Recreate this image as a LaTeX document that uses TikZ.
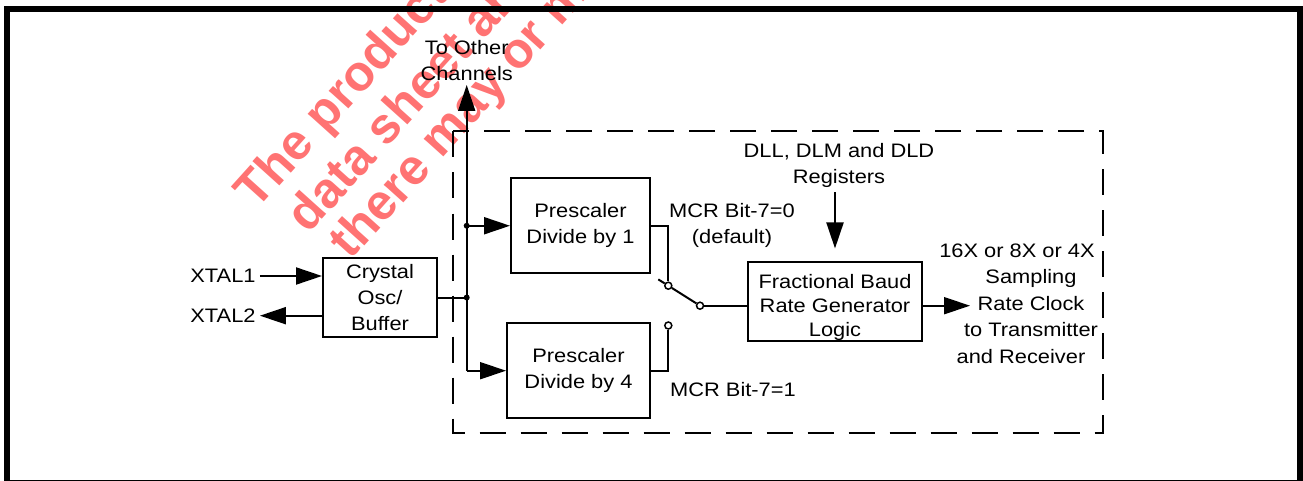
\documentclass[tikz,border=0pt]{standalone}
\usepackage{fontspec}
\setmainfont{Liberation Sans}[FakeStretch=1.12]
\newfontfamily\wmfont{Liberation Sans}
\usetikzlibrary{arrows.meta}
\definecolor{wmred}{RGB}{255,115,115}

\begin{document}
\begin{tikzpicture}[x=1pt, y=-1pt, line width=2pt,
    every node/.style={font=\fontsize{19.5}{26}\selectfont, align=center},
    block/.style={draw, line width=2pt, inner sep=0pt},
    sig/.style={-{Triangle[length=26pt,width=17pt]}},
    contact/.style={draw, circle, fill=white, line width=1.5pt, minimum size=7pt, inner sep=0pt},
    wmark/.style={text=wmred, anchor=base west, rotate=48,
                  font=\wmfont\bfseries\fontsize{50}{50}\selectfont}]
%                    ^ others
%                    |   +------+   1  o--+      regs
% XTAL1 -->+-----+   +-->| /1   |--+      \      |
%          | osc |---*   +------+          o---[frac]--> clock
% XTAL2 <--+-----+   +-->| /4   |--+   o
%                        +------+  +---+
\useasboundingbox (0,0) rectangle (1303,481);

% watermark
\node[wmark] (wm1) at (254,214) {The product};
\node[wmark] (wm2) at (306,238) {data sheet are};
\node[wmark] (wm3) at (348,264) {there may or m};

% frame and channel box
\draw[line width=6pt] (7,9) rectangle (1300,483);
\draw[dash pattern=on 26pt off 15pt] (452.7,131.5) rectangle (1102.7,432.7);

% blocks
\node[block, minimum width=114pt, minimum height=79pt] (osc) at (380,297.5) {Crystal\\Osc/\\Buffer};
\node[block, minimum width=139pt, minimum height=95pt] (pre1) at (580.5,225.75) {Prescaler\\Divide by 1};
\node[block, minimum width=143pt, minimum height=95pt] (pre4) at (578.5,370.7) {Prescaler\\Divide by 4};
\node[block, minimum width=174pt, minimum height=73pt, font=\fontsize{19.5}{24}\selectfont]
    (frac) at (835,301.5) {\rule{0pt}{26pt}Fractional Baud\\Rate Generator\\Logic};

% labels
\node (xtal1) at (223,276) {XTAL1};
\node (xtal2) at (223,315.7) {XTAL2};
\node[anchor=south] (others) at (466.7,85) {To Other\\Channels};
\node (regs) at (839,165.7) {DLL, DLM and DLD\\Registers};
\node (mcr0) at (732,225) {MCR Bit-7=0\\(default)};
\node (mcr1) at (733,390) {MCR Bit-7=1};
\node[font=\fontsize{19.5}{26.5}\selectfont] (clktxt) at (1031,303.7)
    {16X or 8X or 4X\hspace*{28pt}\\Sampling\\Rate Clock\\to Transmitter\hspace*{12pt}\\and Receiver\hspace*{20pt}};

% clock bus
\coordinate (tap1) at (466.7,225.75);
\coordinate (tap0) at (466.7,297.5);
\coordinate (tap4) at (466.7,370.7);
\draw[sig] (xtal1) -- (xtal1 -| osc.west);
\draw[sig] (xtal2 -| osc.west) -- (xtal2);
\draw (osc) -- (tap0);
\draw[sig] (tap4) -- (others);
\draw[sig] (tap1) -- (pre1);
\draw[sig] (tap4) -- (pre4);
\fill (tap1) circle (3pt);
\fill (tap0) circle (3pt);

% MCR bit-7 switch
\node[contact] (s1) at (668.3,285.7) {};
\node[contact] (s4) at (668.3,325.5) {};
\node[contact] (sc) at (700,305.7) {};
\coordinate (armend) at (658.3,279.4);
\draw (pre1.east) -| (s1);
\draw (pre4.east) -| (s4);
\draw (sc) -- (s1) -- (armend);
\draw (sc) -- (sc -| frac.west);

% divisor registers and output clock
\coordinate (clk) at (970,305.7);
\draw[sig, shorten >=13pt] (regs.south -| frac) -- (frac.north);
\draw[sig] (frac.east |- clk) -- (clk);
\end{tikzpicture}
\end{document}
